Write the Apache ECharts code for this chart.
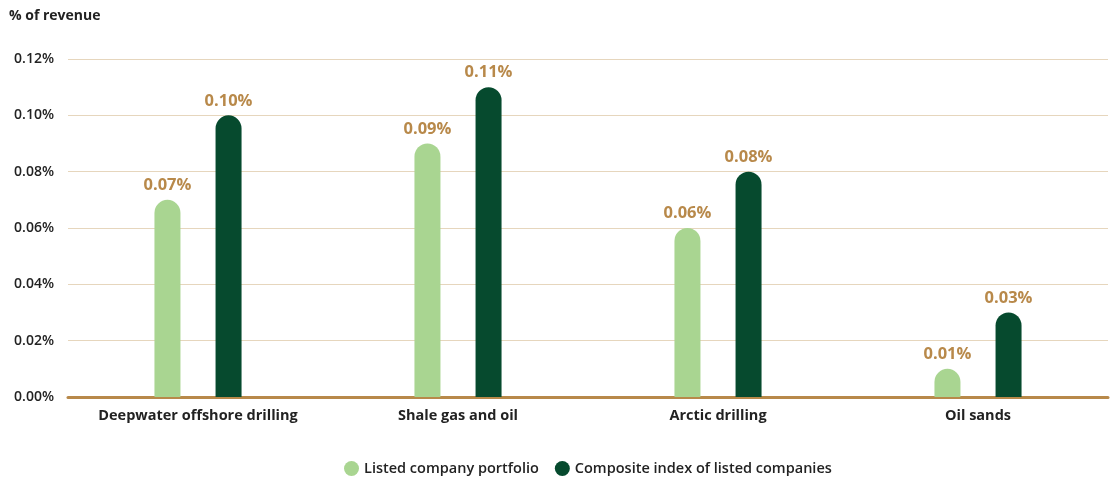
<!DOCTYPE html>
<html><head><meta charset="utf-8">
<script src="https://cdn.jsdelivr.net/npm/echarts@6/dist/echarts.min.js"></script>
<style>html,body{margin:0;padding:0;background:#fff}#c{width:1110px;height:477px}</style>
</head><body><div id="c"></div>
<script>
const categories = ['Deepwater offshore drilling', 'Shale gas and oil', 'Arctic drilling', 'Oil sands'];
const seriesNames = ['Listed company portfolio', 'Composite index of listed companies'];
const listedPortfolio = [0.07, 0.09, 0.06, 0.01];
const compositeIndex = [0.10, 0.11, 0.08, 0.03];
const yTicks = [0, 0.02, 0.04, 0.06, 0.08, 0.10, 0.12];

const FONT = '"Open Sans", Lato, sans-serif';
const chart = echarts.init(document.getElementById('c'));
const labelCfg = {
  show: true, position: 'top', distance: 5,
  formatter: p => p.value.toFixed(2) + '%',
  color: '#b8894a', fontFamily: FONT, fontWeight: 700, fontSize: 16.5,
  backgroundColor: '#fff', padding: [1, 2]
};
chart.setOption({
  animation: false,
  title: { text: '% of revenue', left: 4, top: 4,
    textStyle: { fontFamily: FONT, fontWeight: 700, fontSize: 14, color: '#222' } },
  grid: { left: 68, right: 2, top: 59, bottom: 80, containLabel: false },
  legend: {
    top: 461, left: 344, padding: 0, itemWidth: 15, itemHeight: 15, itemGap: 16, icon: 'circle',
    textStyle: { fontFamily: FONT, fontWeight: 600, fontSize: 14.5, color: '#222' },
    data: seriesNames
  },
  xAxis: {
    type: 'category', data: categories,
    axisLine: { lineStyle: { color: '#b8894a', width: 3 } },
    axisTick: { show: false },
    axisLabel: { fontFamily: FONT, fontWeight: 700, fontSize: 14.5, color: '#222', margin: 11 }
  },
  yAxis: {
    type: 'value', min: 0, max: 0.12, interval: 0.02,
    axisLine: { show: false }, axisTick: { show: false },
    splitLine: { lineStyle: { color: '#e6d6bd', width: 1 } },
    axisLabel: { fontFamily: FONT, fontWeight: 600, fontSize: 14, color: '#222', margin: 14,
      formatter: v => v.toFixed(2) + '%' }
  },
  series: [
    { name: seriesNames[0], type: 'bar', data: listedPortfolio, barWidth: 26, barGap: '135%',
      itemStyle: { color: '#a9d591', borderRadius: [13, 13, 0, 0] }, label: labelCfg },
    { name: seriesNames[1], type: 'bar', data: compositeIndex, barWidth: 26,
      itemStyle: { color: '#064a2e', borderRadius: [13, 13, 0, 0] }, label: labelCfg }
  ]
});
</script></body></html>
